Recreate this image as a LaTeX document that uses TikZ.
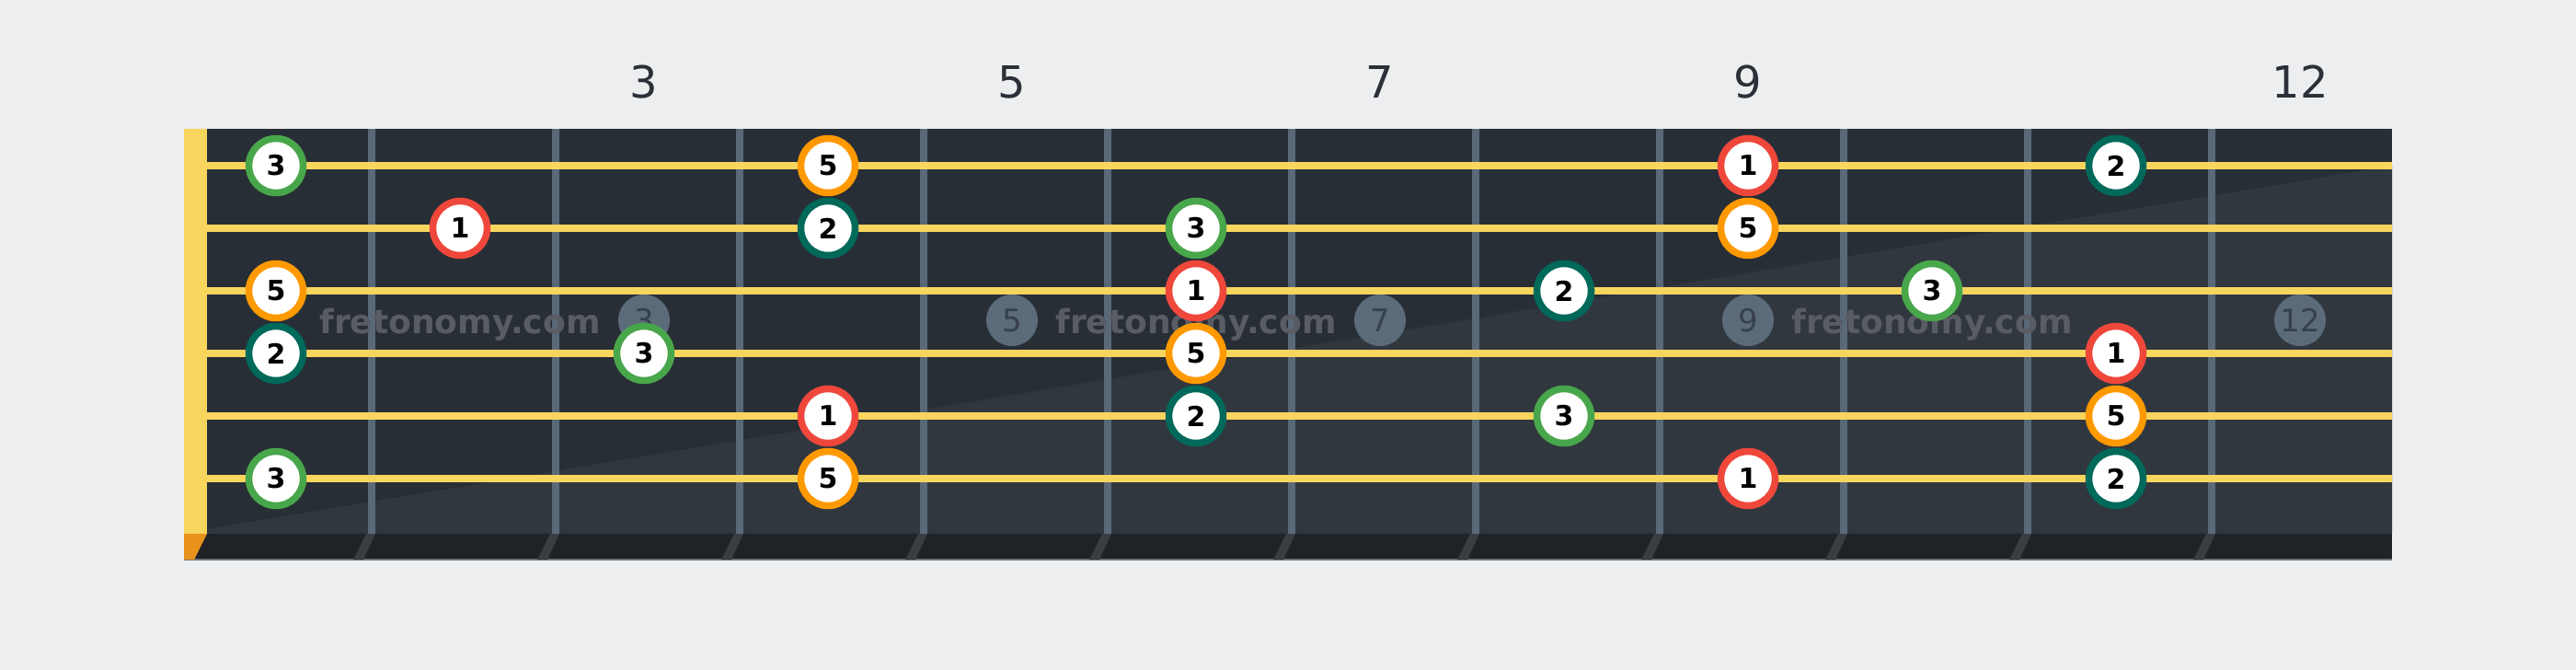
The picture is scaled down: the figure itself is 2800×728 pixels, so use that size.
\documentclass[tikz,border=0pt]{standalone}
\usepackage{fontspec}
\setmainfont{DejaVu Sans}
\definecolor{bg}{HTML}{EDEEF0}
\definecolor{board}{HTML}{282E36}
\definecolor{boardlight}{HTML}{31373F}
\definecolor{strip}{HTML}{1F2226}
\definecolor{stripline}{HTML}{6B7078}
\definecolor{fretc}{HTML}{5A6978}
\definecolor{fretsh}{HTML}{3A3D42}
\definecolor{strc}{HTML}{F8D65E}
\definecolor{nutbot}{HTML}{E8921C}
\definecolor{inlayc}{HTML}{5C6B7A}
\definecolor{inlaytxt}{HTML}{37414C}
\definecolor{wm}{HTML}{595C62}
\definecolor{cred}{HTML}{F0473B}
\definecolor{cteal}{HTML}{00695A}
\definecolor{cgreen}{HTML}{48A64B}
\definecolor{corange}{HTML}{FF9900}
\definecolor{numc}{HTML}{2B3038}
\begin{document}
\begin{tikzpicture}[x=1pt,y=-1pt,
  notedot/.style={circle, draw=#1, line width=7.5pt, fill=white, text=black,
    minimum size=59pt, inner sep=0pt, font=\fontsize{30}{30}\selectfont\bfseries},
  inlaydot/.style={circle, fill=inlayc, text=inlaytxt, minimum size=56pt, inner sep=0pt,
    font=\fontsize{34}{34}\selectfont},
  fretnum/.style={text=numc, inner sep=0pt, font=\fontsize{48}{48}\selectfont},
  watermark/.style={text=wm, inner sep=0pt, anchor=base, font=\fontsize{36}{36}\selectfont\bfseries}
]
\useasboundingbox (0,0) rectangle (2800,728);
\fill[bg] (0,0) rectangle (2800,728);
% board
\fill[board] (200,140) rectangle (2600,580);
\fill[boardlight] (225,575) -- (2600,180) -- (2600,580) -- (225,580) -- cycle;
\fill[strip] (200,580) rectangle (2600,608);
\draw[stripline, line width=1.5pt] (200,608) -- (2600,608);
% nut
\fill[strc] (200,140) rectangle (225,580);
\fill[nutbot] (200,580) -- (225,580) -- (211,608) -- (200,608) -- cycle;
% frets
\foreach \i in {0,...,10} {
  \fill[fretc] ({400+200*\i},140) rectangle ({408+200*\i},580);
  \fill[fretsh] ({398+200*\i},580) -- ({408+200*\i},580) -- ({395+200*\i},608) -- ({384+200*\i},608) -- cycle;
}
% strings
\foreach \s in {1,...,6} {
  \fill[strc] (225,{108+68*\s}) rectangle (2600,{116+68*\s});
}
% fret numbers and inlays
\foreach \f in {3,5,7,9,12} {
  \node[fretnum] (num\f) at ({100+200*\f},89) {\f};
  \node[inlaydot] (inlay\f) at ({100+200*\f},348) {\f};
}
% watermark
\foreach \x [count=\k] in {500,1300,2100} {
  \node[watermark] (wm\k) at (\x,362) {fretonomy.com};
}
% notes
\foreach \f/\s/\n/\c in {
  1/1/3/cgreen, 4/1/5/corange, 9/1/1/cred, 11/1/2/cteal,
  2/2/1/cred, 4/2/2/cteal, 6/2/3/cgreen, 9/2/5/corange,
  1/3/5/corange, 6/3/1/cred, 8/3/2/cteal, 10/3/3/cgreen,
  1/4/2/cteal, 3/4/3/cgreen, 6/4/5/corange, 11/4/1/cred,
  4/5/1/cred, 6/5/2/cteal, 8/5/3/cgreen, 11/5/5/corange,
  1/6/3/cgreen, 4/6/5/corange, 9/6/1/cred, 11/6/2/cteal} {
  \node[notedot=\c] (n\s-\f) at ({100+200*\f},{112+68*\s}) {\n};
}
\end{tikzpicture}
\end{document}
